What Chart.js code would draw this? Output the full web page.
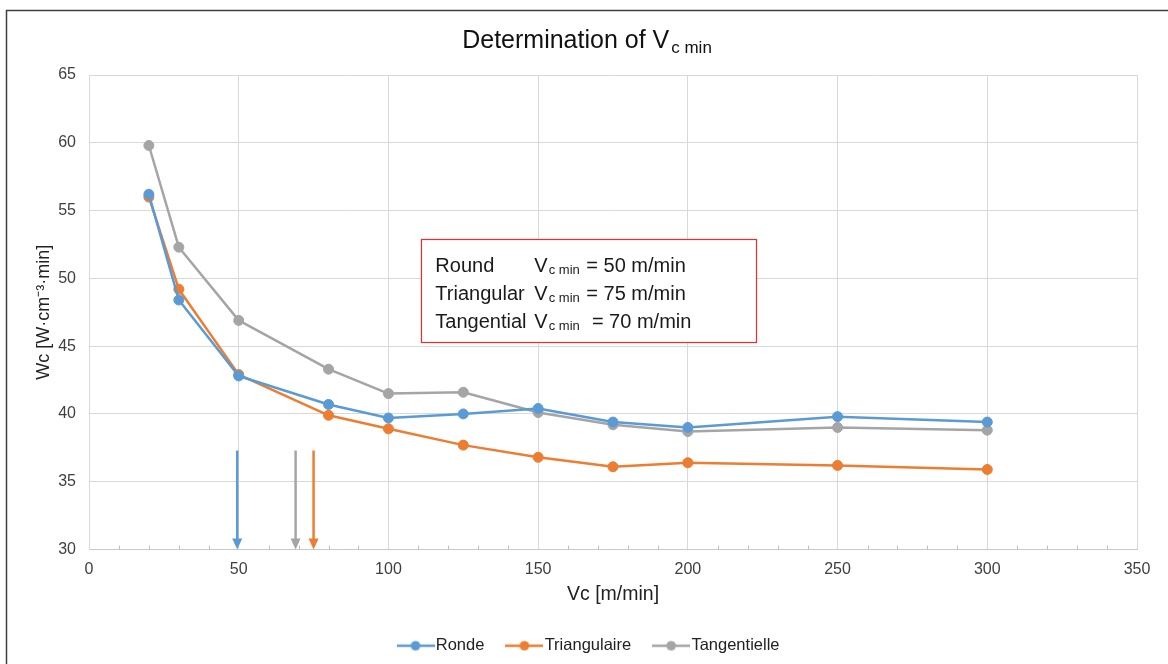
<!DOCTYPE html>
<html>
<head>
<meta charset="utf-8">
<script src="https://cdn.jsdelivr.net/npm/chart.js@4.4.1/dist/chart.umd.min.js"></script>
<style>
  html, body { margin: 0; padding: 0; background: #fff; }
  #wrap { position: relative; width: 1168px; height: 664px; }
</style>
</head>
<body>
<div id="wrap"><canvas id="chart" width="1168" height="664"></canvas></div>
<script>
// Cutting speed values (m/min)
const vc = [20, 30, 50, 80, 100, 125, 150, 175, 200, 250, 300];

// Specific energy per tool shape
const ronde = [56.2, 48.4, 42.8, 40.7, 39.7, 40.0, 40.4, 39.4, 39.0, 39.8, 39.4];
const triangulaire = [56.0, 49.2, 42.9, 39.9, 38.9, 37.7, 36.8, 36.1, 36.4, 36.2, 35.9];
const tangentielle = [59.8, 52.3, 46.9, 43.3, 41.5, 41.6, 40.1, 39.2, 38.7, 39.0, 38.8];

const seriesNames = ['Ronde', 'Triangulaire', 'Tangentielle'];
const seriesColors = ['#5b9bd5', '#ed7d31', '#a5a5a5'];

// Vc min arrows (same order as series)
const arrowX = [49.5, 75, 69];
const arrowTop = 37.3;
const arrowBottom = 30;

// Text box content
const boxLabels = ['Round', 'Triangular', 'Tangential'];
const boxValues = ['50', '75', '70'];
const boxRange = { x0: 111, x1: 223, y0: 52.9, y1: 45.3 };

const FONT = '"Liberation Sans", Arial, sans-serif';

function toPoints(ys) {
    return vc.map((x, i) => ({ x: x, y: ys[i] }));
}

// Excel-like legend marker: short line with a dot
function legendMarker(color) {
    const c = document.createElement('canvas');
    c.width = 38;
    c.height = 12;
    const g = c.getContext('2d');
    g.strokeStyle = color;
    g.lineWidth = 2.5;
    g.beginPath();
    g.moveTo(0, 6);
    g.lineTo(38, 6);
    g.stroke();
    g.fillStyle = color;
    g.beginPath();
    g.arc(19, 6, 4.8, 0, Math.PI * 2);
    g.fill();
    return c;
}

// Frame, title, minor ticks, arrows and text box
const extras = {
    id: 'extras',
    beforeDraw(chart) {
        const ctx = chart.ctx;
        ctx.save();
        ctx.strokeStyle = '#404040';
        ctx.lineWidth = 1.5;
        ctx.beginPath();
        ctx.moveTo(6.5, 664);
        ctx.lineTo(6.5, 10.5);
        ctx.lineTo(1168, 10.5);
        ctx.stroke();
        ctx.restore();
    },
    afterDraw(chart) {
        const ctx = chart.ctx;
        const xs = chart.scales.x;
        const ys = chart.scales.y;
        const area = chart.chartArea;

        // minor ticks on x axis
        ctx.save();
        ctx.strokeStyle = '#bfbfbf';
        ctx.lineWidth = 1;
        for (let v = 10; v < 350; v += 10) {
            if (v % 50 === 0) continue;
            const px = Math.round(xs.getPixelForValue(v)) + 0.5;
            ctx.beginPath();
            ctx.moveTo(px, area.bottom);
            ctx.lineTo(px, area.bottom - 4);
            ctx.stroke();
        }
        ctx.restore();

        // title with subscript
        ctx.save();
        ctx.fillStyle = '#111';
        ctx.textBaseline = 'alphabetic';
        const main = 'Determination of V';
        const sub = 'c min';
        ctx.font = '25px ' + FONT;
        const wMain = ctx.measureText(main).width;
        ctx.font = '17px ' + FONT;
        const wSub = ctx.measureText(sub).width;
        const total = wMain + 2 + wSub;
        const tx = 587 - total / 2;
        ctx.font = '25px ' + FONT;
        ctx.fillText(main, tx, 48);
        ctx.font = '17px ' + FONT;
        ctx.fillText(sub, tx + wMain + 2, 53);
        ctx.restore();

        // arrows
        ctx.save();
        arrowX.forEach((v, i) => {
            const px = xs.getPixelForValue(v);
            const top = ys.getPixelForValue(arrowTop);
            const bot = ys.getPixelForValue(arrowBottom);
            ctx.strokeStyle = seriesColors[i];
            ctx.fillStyle = seriesColors[i];
            ctx.lineWidth = 2.5;
            ctx.beginPath();
            ctx.moveTo(px, top);
            ctx.lineTo(px, bot - 9);
            ctx.stroke();
            ctx.beginPath();
            ctx.moveTo(px - 5, bot - 11);
            ctx.lineTo(px + 5, bot - 11);
            ctx.lineTo(px, bot);
            ctx.closePath();
            ctx.fill();
        });
        ctx.restore();

        // text box
        ctx.save();
        const bx0 = xs.getPixelForValue(boxRange.x0);
        const bx1 = xs.getPixelForValue(boxRange.x1);
        const by0 = ys.getPixelForValue(boxRange.y0);
        const by1 = ys.getPixelForValue(boxRange.y1);
        ctx.fillStyle = '#fff';
        ctx.fillRect(bx0, by0, bx1 - bx0, by1 - by0);
        ctx.strokeStyle = '#ee2a2a';
        ctx.lineWidth = 1.2;
        ctx.strokeRect(Math.round(bx0) + 0.5, Math.round(by0) + 0.5, Math.round(bx1 - bx0), Math.round(by1 - by0));
        ctx.fillStyle = '#1a1a1a';
        boxLabels.forEach((lab, i) => {
            const base = by0 + 27 + i * 28;
            ctx.font = '20px ' + FONT;
            ctx.fillText(lab, bx0 + 14, base);
            ctx.fillText('V', bx0 + 113, base);
            const vw = ctx.measureText('V').width;
            ctx.font = '13px ' + FONT;
            ctx.fillText('c min', bx0 + 113 + vw + 1, base + 4);
            const sw = ctx.measureText('c min').width;
            ctx.font = '20px ' + FONT;
            const gap = i === 2 ? '  = ' : ' = ';
            ctx.fillText(gap + boxValues[i] + ' m/min', bx0 + 113 + vw + 2 + sw, base);
        });
        ctx.restore();
    }
};

const datasets = [ronde, triangulaire, tangentielle].map((ys, i) => ({
    label: seriesNames[i],
    data: toPoints(ys),
    borderColor: seriesColors[i],
    backgroundColor: seriesColors[i],
    borderWidth: 2.5,
    pointRadius: 5,
    pointHoverRadius: 5,
    pointBorderWidth: 1,
    pointStyle: 'circle',
    tension: 0,
    borderJoinStyle: 'round'
}));

new Chart(document.getElementById('chart'), {
    type: 'line',
    data: { datasets: datasets },
    options: {
        responsive: false,
        animation: false,
        layout: { padding: { left: 46, right: 31, top: 75, bottom: 0 } },
        scales: {
            x: {
                type: 'linear',
                min: 0,
                max: 350,
                ticks: { stepSize: 50, padding: 10, color: '#404040', font: { family: FONT, size: 16 } },
                grid: { color: '#d9d9d9', drawTicks: false },
                border: { color: '#c8c8c8' },
                title: { display: true, text: 'Vc [m/min]', color: '#222', font: { family: FONT, size: 19.5 }, padding: { top: 0, bottom: 3 } },
                afterFit(scale) { scale.height = 60; }
            },
            y: {
                min: 30,
                max: 65,
                ticks: { stepSize: 5, padding: 13, color: '#404040', font: { family: FONT, size: 16 } },
                grid: { color: '#d9d9d9', drawTicks: false },
                border: { color: '#d9d9d9' },
                title: { display: true, text: 'Wc [W·cm⁻³·min]', color: '#222', font: { family: FONT, size: 18 }, padding: { top: -13, bottom: 0 } },
                afterFit(scale) { scale.width = 43; }
            }
        },
        plugins: {
            title: { display: false },
            tooltip: { enabled: false },
            legend: {
                position: 'bottom',
                labels: {
                    usePointStyle: true,
                    pointStyleWidth: 24,
                    padding: 28,
                    color: '#222',
                    font: { family: FONT, size: 16.5 },
                    generateLabels(chart) {
                        return chart.data.datasets.map((ds, i) => ({
                            text: ds.label,
                            pointStyle: legendMarker(seriesColors[i]),
                            fillStyle: seriesColors[i],
                            strokeStyle: seriesColors[i],
                            lineWidth: 0,
                            hidden: false,
                            datasetIndex: i,
                            fontColor: '#222'
                        }));
                    }
                }
            }
        }
    },
    plugins: [extras]
});
</script>
</body>
</html>
